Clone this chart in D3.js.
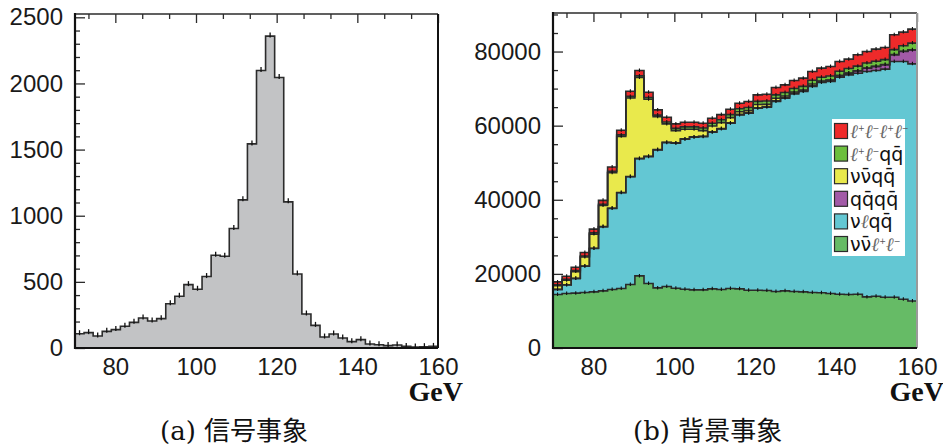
<!DOCTYPE html>
<html>
<head>
<meta charset="utf-8">
<script src="https://cdn.jsdelivr.net/npm/d3@7"></script>
<style>
  body { margin: 0; background: #fff; }
  svg { display: block; }
</style>
</head>
<body>
<svg id="chart" width="943" height="448"></svg>
<script>
// Reconstructed mass spectrum, 40 bins from 70 to 160 GeV
const massRange = [70, 160];
const binCount = 40;

// (a) signal events per bin
const signal = [108,116,91,126,139,164,194,227,204,222,335,391,479,444,540,701,694,903,1120,1543,
                2098,2358,2045,1105,560,257,171,83,106,76,48,63,30,25,18,23,12,8,10,12];

// (b) background processes per bin, stacked bottom to top
const nnll = [14430,14700,14800,14970,15150,15420,15780,16050,17130,19460,17400,16220,16580,16140,15870,15690,15690,15960,15780,16050,
              15960,15600,15600,15510,15240,15420,15240,15150,14970,14900,14700,14520,14430,14520,13790,13960,13700,13700,13160,12700];
const nlqq = [1350,2330,3950,7110,11720,17290,21900,25850,29090,31630,34230,37220,38830,39110,40460,41180,41340,42260,43330,44600,
              46940,47750,49100,49460,51260,51990,53340,54050,55580,56730,57210,58570,59280,59640,60820,60920,61550,63610,64150,63980];
const qqqq = [50,50,50,50,50,50,50,50,50,50,100,100,100,100,100,100,100,100,100,100,
              150,150,150,200,200,200,250,250,300,300,350,400,450,600,900,1080,1170,1810,2700,3750];
const nnqq = [960,1200,1810,2410,3820,5680,9560,15160,21180,21840,15400,8860,4960,3320,2590,2050,1520,1580,1620,1430,
              710,550,850,600,700,400,250,150,400,100,50,50,50,50,50,50,50,50,50,50];
const llqq = [250,250,300,300,350,350,400,400,450,450,450,450,500,600,650,650,700,750,750,800,
              800,850,850,900,900,950,950,1000,1000,1050,1100,1150,1200,1250,1350,1350,1350,1350,1500,1800];
const llll = [800,850,900,950,1000,1050,1150,1250,1400,1450,1450,1400,1300,1200,1250,1250,1300,1350,1400,1450,
              1500,1600,1760,1820,1980,2050,2140,2220,2360,2440,2550,2620,2540,3060,3100,3300,3270,4000,3690,3780];

const seriesKeys   = ["nnll", "nlqq", "qqqq", "nnqq", "llqq", "llll"];
const seriesValues = { nnll, nlqq, qqqq, nnqq, llqq, llll };
const seriesColors = { nnll: "#66bb66", nlqq: "#63c7d3", qqqq: "#a25aa7", nnqq: "#e9e94c", llqq: "#6cbf3e", llll: "#ee2a2a" };

// Legend labels: [text, style] segments ("l" = script ell, "sup" = superscript, "n" = plain)
const legendLabels = {
  llll: [["ℓ","l"],["+","sup"],["ℓ","l"],["−","sup"],["ℓ","l"],["+","sup"],["ℓ","l"],["−","sup"]],
  llqq: [["ℓ","l"],["+","sup"],["ℓ","l"],["−","sup"],["qq\u0304","n"]],
  nnqq: [["νν\u0304qq\u0304","n"]],
  qqqq: [["qq\u0304qq\u0304","n"]],
  nlqq: [["ν","n"],["ℓ","l"],["qq\u0304","n"]],
  nnll: [["νν\u0304","n"],["ℓ","l"],["+","sup"],["ℓ","l"],["−","sup"]]
};
const legendOrder = ["llll", "llqq", "nnqq", "qqqq", "nlqq", "nnll"];

const xTickValues  = [80, 100, 120, 140, 160];
const yTicksSignal = [0, 500, 1000, 1500, 2000, 2500];
const yTicksBkg    = [0, 20000, 40000, 60000, 80000];
const captions     = [["(a)", "信号事象"], ["(b)", "背景事象"]];

const svg = d3.select("#chart");
const edges = d3.range(binCount + 1).map(i => massRange[0] + i * (massRange[1] - massRange[0]) / binCount);
const centers = d3.range(binCount).map(i => (edges[i] + edges[i + 1]) / 2);
const LINE = "#2b2b2b";
const TICKFONT = "'Liberation Sans', Arial, Helvetica, sans-serif";

function makePanel(box, yMax, yMajor, yMinorStep) {
  const g = svg.append("g");
  const x = d3.scaleLinear().domain(massRange).range([box.left, box.right]);
  const y = d3.scaleLinear().domain([0, yMax]).range([box.bottom, box.top]);
  // y ticks go underneath the histograms, pointing into the frame
  const minor = d3.range(0, yMax, yMinorStep).filter(v => !yMajor.includes(v));
  const tickLayer = g.append("g");
  tickLayer.append("g").attr("transform", `translate(${box.left},0)`)
    .call(d3.axisLeft(y).tickValues(minor).tickSizeInner(-5).tickSizeOuter(0).tickFormat(""))
    .call(a => a.select(".domain").remove())
    .selectAll("line").attr("stroke", LINE).attr("stroke-width", 1.3);
  const yAxis = tickLayer.append("g").attr("transform", `translate(${box.left},0)`)
    .call(d3.axisLeft(y).tickValues(yMajor).tickSizeInner(-10).tickSizeOuter(0).tickPadding(12).tickFormat(d3.format("d")));
  yAxis.select(".domain").remove();
  yAxis.selectAll("line").attr("stroke", LINE).attr("stroke-width", 1.3);
  yAxis.selectAll("text").attr("font-family", TICKFONT).attr("font-size", 24).attr("fill", "#1a1a1a");
  return { g, x, y };
}

function frame(p, box, rightColor, unitX) {
  const { g, x } = p;
  // top-edge ticks
  const minorX = d3.range(massRange[0] + 10/3, massRange[1] + 0.01, 20/3).filter(v => !xTickValues.some(t => Math.abs(t - v) < 0.01));
  g.append("g").attr("transform", `translate(0,${box.top})`)
    .call(d3.axisTop(x).tickValues(minorX).tickSizeInner(-5).tickSizeOuter(0).tickFormat(""))
    .call(a => a.select(".domain").remove())
    .selectAll("line").attr("stroke", LINE).attr("stroke-width", 1.3);
  g.append("g").attr("transform", `translate(0,${box.top})`)
    .call(d3.axisTop(x).tickValues(xTickValues).tickSizeInner(-9).tickSizeOuter(0).tickFormat(""))
    .call(a => a.select(".domain").remove())
    .selectAll("line").attr("stroke", LINE).attr("stroke-width", 1.3);
  // bottom axis labels
  const xa = g.append("g").attr("transform", `translate(0,${box.bottom})`)
    .call(d3.axisBottom(x).tickValues(xTickValues).tickSize(0).tickPadding(10).tickFormat(d3.format("d")));
  xa.select(".domain").remove();
  xa.selectAll("text").attr("font-family", TICKFONT).attr("font-size", 24).attr("fill", "#1a1a1a");
  // frame lines
  g.append("line").attr("x1", box.left).attr("x2", box.right).attr("y1", box.top).attr("y2", box.top).attr("stroke", LINE).attr("stroke-width", 1.6);
  g.append("line").attr("x1", box.right).attr("x2", box.right).attr("y1", box.top).attr("y2", box.bottom).attr("stroke", rightColor).attr("stroke-width", 2);
  g.append("line").attr("x1", box.left).attr("x2", box.right).attr("y1", box.bottom).attr("y2", box.bottom).attr("stroke", "#111").attr("stroke-width", 2.2);
  g.append("line").attr("x1", box.left).attr("x2", box.left).attr("y1", box.top - 1).attr("y2", box.bottom + 1).attr("stroke", "#111").attr("stroke-width", 2.2);
  // unit label
  g.append("text").attr("x", unitX).attr("y", 401).attr("text-anchor", "end")
    .attr("font-family", "'Liberation Serif', 'Times New Roman', serif").attr("font-weight", "bold").attr("font-size", 28)
    .attr("fill", "#111").text("GeV");
}

function stepPoints(lo, hi) {
  const pts = hi.map((v, i) => ({ e: edges[i], lo: lo[i], hi: v }));
  pts.push({ e: edges[binCount], lo: lo[binCount - 1], hi: hi[binCount - 1] });
  return pts;
}

// ---------- (a) signal ----------
const boxA = { left: 75, right: 438, top: 14, bottom: 348 };
const pA = makePanel(boxA, 2525, yTicksSignal, 100);
{
  const { g, x, y } = pA;
  const zeros = signal.map(() => 0);
  const pts = stepPoints(zeros, signal);
  g.append("path").datum(pts)
    .attr("d", d3.area().x(d => x(d.e)).y0(d => y(d.lo)).y1(d => y(d.hi)).curve(d3.curveStepAfter))
    .attr("fill", "#c2c3c5");
  const outline = [{ e: edges[0], hi: 0 }, ...pts, { e: edges[binCount], hi: 0 }];
  g.append("path").datum(outline)
    .attr("d", d3.line().x(d => x(d.e)).y(d => y(d.hi)).curve(d3.curveStepAfter))
    .attr("fill", "none").attr("stroke", LINE).attr("stroke-width", 1.6);
  g.append("g").selectAll("line").data(signal).join("line")
    .attr("x1", (d, i) => x(centers[i])).attr("x2", (d, i) => x(centers[i]))
    .attr("y1", d => y(d) - 3.5).attr("y2", d => y(d) + 1.5)
    .attr("stroke", "#111").attr("stroke-width", 1.3);
}
frame(pA, boxA, "#111", 463);

// ---------- (b) background ----------
const boxB = { left: 553, right: 917, top: 13, bottom: 348 };
const pB = makePanel(boxB, 90400, yTicksBkg, 5000);
{
  const { g, x, y } = pB;
  const rows = d3.range(binCount).map(i => Object.fromEntries(seriesKeys.map(k => [k, seriesValues[k][i]])));
  const stacked = d3.stack().keys(seriesKeys)(rows);
  const area = d3.area().x(d => x(d.e)).y0(d => y(d.lo)).y1(d => y(d.hi)).curve(d3.curveStepAfter);
  stacked.forEach(layer => {
    const pts = stepPoints(layer.map(d => d[0]), layer.map(d => d[1]));
    g.append("path").datum(pts).attr("d", area).attr("fill", seriesColors[layer.key]);
  });
  stacked.forEach(layer => {
    const top = layer.map(d => d[1]);
    const pts = stepPoints(top, top);
    g.append("path").datum(pts)
      .attr("d", d3.line().x(d => x(d.e)).y(d => y(d.hi)).curve(d3.curveStepAfter))
      .attr("fill", "none").attr("stroke", LINE).attr("stroke-width", 1.6);
    g.append("g").selectAll("line").data(top).join("line")
      .attr("x1", (d, i) => x(centers[i])).attr("x2", (d, i) => x(centers[i]))
      .attr("y1", d => y(d) - 2).attr("y2", d => y(d) + 1.5)
      .attr("stroke", "#111").attr("stroke-width", 1.1);
  });

  // legend
  const lg = g.append("g");
  lg.append("rect").attr("x", 832).attr("y", 119).attr("width", 73).attr("height", 137).attr("fill", "#fff");
  legendOrder.forEach((k, i) => {
    const cy = 131 + i * 22.6;
    lg.append("rect").attr("x", 834.5).attr("y", cy - 7.5).attr("width", 13).attr("height", 15)
      .attr("fill", seriesColors[k]).attr("stroke", LINE).attr("stroke-width", 1.2);
    const t = lg.append("text").attr("x", 850).attr("y", cy + 7)
      .attr("font-family", "'DejaVu Sans', sans-serif").attr("font-size", 19).attr("fill", "#111");
    let raised = false;
    legendLabels[k].forEach(([s, style]) => {
      const ts = t.append("tspan").text(s);
      if (style === "l") {
        ts.attr("font-family", "'DejaVu Serif', serif").attr("font-style", "italic").attr("fill", "#6a6a6a").attr("font-size", 19);
        if (raised) { ts.attr("dy", 7); raised = false; }
      } else if (style === "sup") {
        ts.attr("font-size", 8).attr("fill", "#555").attr("dy", raised ? 0 : -7);
        raised = true;
      } else {
        if (raised) { ts.attr("dy", 7); raised = false; }
      }
    });
  });
}
frame(pB, boxB, "#9a9a9a", 944);

// ---------- captions ----------
[[160, captions[0]], [633, captions[1]]].forEach(([x0, [tag, title]]) => {
  const t = svg.append("text").attr("x", x0).attr("y", 440).attr("fill", "#111").attr("font-size", 26);
  t.append("tspan").attr("font-family", "'DejaVu Serif', serif").text(tag + " ");
  t.append("tspan").attr("font-family", "'Noto Sans CJK JP', 'Noto Sans CJK SC', sans-serif").attr("font-size", 26).text(title);
});
</script>
</body>
</html>
